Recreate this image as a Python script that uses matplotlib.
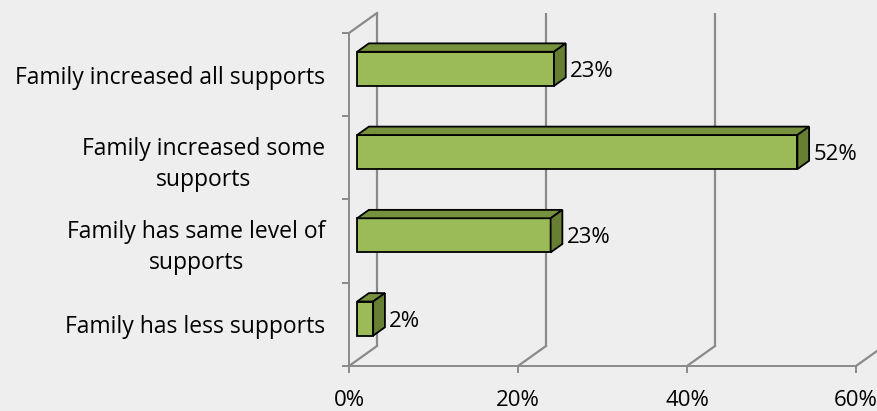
import matplotlib.pyplot as plt

# ==========================
# Data
# ==========================

categories = [
    "Family increased all supports",
    "Family increased some\nsupports",
    "Family has same level of\nsupports",
    "Family has less supports",
]
values = [23.3, 52.1, 22.9, 1.9]
value_labels = ["23%", "52%", "23%", "2%"]
x_ticks = [0, 20, 40, 60]
x_tick_labels = ["0%", "20%", "40%", "60%"]

# ==========================
# Style
# ==========================

BG = "#EEEEEE"
GRID = "#8A8A8A"
FRONT = "#9BBB59"
TOP = "#76923C"
SIDE = "#667F33"

DX, DY = 3.31, 0.24      # full depth offset (data units)
D0, D1 = 0.29, 0.71      # bar depth span (fraction of full depth)
BAR_H = 0.41
FS = 16.5

plt.rcParams["font.family"] = ["Open Sans", "DejaVu Sans"]

fig = plt.figure(figsize=(8.77, 4.11), dpi=100, facecolor=BG)
ax = fig.add_axes([349 / 877, 45 / 411, 507 / 877, 333 / 411])
ax.set_facecolor("none")
ax.set_xlim(0, 60)
ax.set_ylim(0, 4)

# ==========================
# Walls / gridlines
# ==========================

for t in x_ticks:
    ax.plot([t + DX, t + DX], [DY, 4 + DY], color=GRID, lw=1.6,
            clip_on=False, zorder=1, solid_capstyle="butt")
    ax.plot([t, t + DX], [0, DY], color=GRID, lw=1.6,
            clip_on=False, zorder=1)
ax.plot([0, DX], [4, 4 + DY], color=GRID, lw=1.6, clip_on=False, zorder=1)

# ==========================
# Bars
# ==========================

n = len(categories)
centers = [n - i - 0.5 for i in range(n)]
bdx = (D1 - D0) * DX
bdy = (D1 - D0) * DY

for c, v, lab in zip(centers, values, value_labels):
    x0 = D0 * DX
    x1 = v + D0 * DX
    yc = c + D0 * DY
    yb, yt = yc - BAR_H / 2, yc + BAR_H / 2
    kw = dict(edgecolor="black", lw=1.3, clip_on=False, zorder=3,
              joinstyle="miter")
    ax.fill([x0, x1, x1, x0], [yb, yb, yt, yt], facecolor=FRONT, **kw)
    ax.fill([x0, x1, x1 + bdx, x0 + bdx], [yt, yt, yt + bdy, yt + bdy],
            facecolor=TOP, **kw)
    ax.fill([x1, x1 + bdx, x1 + bdx, x1], [yb, yb + bdy, yt + bdy, yt],
            facecolor=SIDE, **kw)
    ax.text(x1 + bdx + 0.5, yc - 0.03, lab, ha="left", va="center",
            fontsize=16, color="black", zorder=4)

# ==========================
# Axes
# ==========================

for s in ["top", "right"]:
    ax.spines[s].set_visible(False)
for s in ["left", "bottom"]:
    ax.spines[s].set_color(GRID)
    ax.spines[s].set_linewidth(1.4)
    ax.spines[s].set_zorder(2)

ax.set_xticks(x_ticks, x_tick_labels)
ax.tick_params(axis="x", length=5, width=1.4, color=GRID, pad=12,
               labelsize=16)

ax.set_yticks(centers, categories)
ax.set_yticks(range(n + 1), minor=True)
ax.tick_params(axis="y", which="major", length=0, pad=17, labelsize=FS)
ax.tick_params(axis="y", which="minor", length=5, width=1.4, color=GRID)
for t in ax.get_yticklabels():
    t.set_multialignment("center")
    t.set_linespacing(1.4)

fig.savefig("out.png", dpi=100, facecolor=BG)
